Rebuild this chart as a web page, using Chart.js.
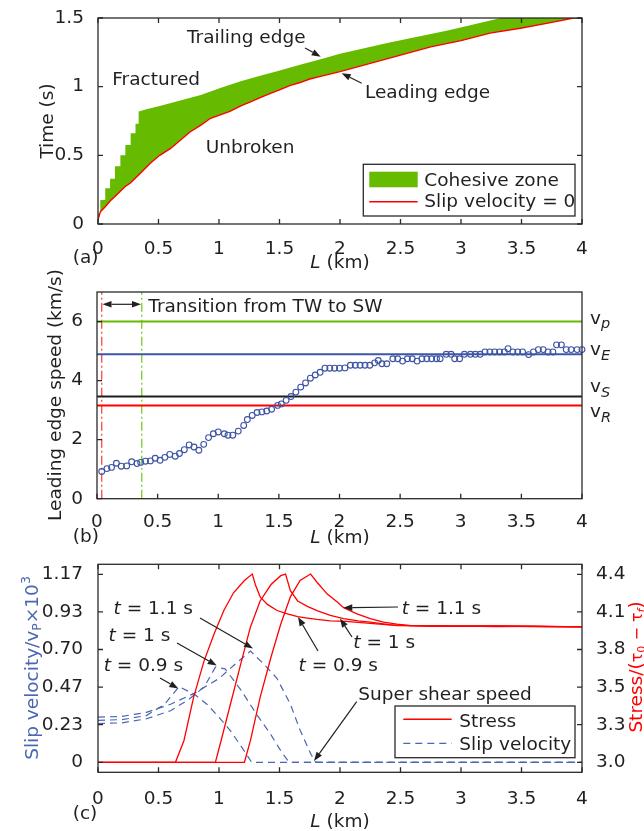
<!DOCTYPE html>
<html><head><meta charset="utf-8">
<script src="https://cdn.jsdelivr.net/npm/chart.js@4.4.1/dist/chart.umd.min.js"></script>
<style>
html,body{margin:0;padding:0;background:#fff;}
#wrap{position:relative;width:644px;height:831px;overflow:hidden;}
canvas{position:absolute;left:0;}
</style></head><body>
<div id="wrap">
<canvas id="ca" width="644" height="270" style="top:0px"></canvas>
<canvas id="cb" width="644" height="290" style="top:260px"></canvas>
<canvas id="cc" width="644" height="291" style="top:540px"></canvas>
</div>
<script>
// ---------------- data ----------------
const xTickVals = [0, 0.5, 1, 1.5, 2, 2.5, 3, 3.5, 4];
// panel (a)
const timeTickVals = [0, 0.5, 1, 1.5];
const trailStepL = [0, 0.019, 0.06, 0.10, 0.14, 0.185, 0.226, 0.27, 0.31, 0.336];
const trailStepT = [0.078, 0.175, 0.26, 0.33, 0.42, 0.50, 0.575, 0.66, 0.73, 0.82];
const trailL = [0.336, 0.4, 0.51, 0.68, 0.85, 1.01, 1.18, 1.34, 1.51, 1.67, 1.84, 2.0, 2.4, 2.9, 3.33, 4.0];
const trailT = [0.82, 0.835, 0.86, 0.90, 0.94, 0.99, 1.04, 1.08, 1.12, 1.16, 1.20, 1.24, 1.32, 1.41, 1.5, 1.5];
const leadL = [0, 0.02, 0.06, 0.10, 0.14, 0.18, 0.22, 0.27, 0.35, 0.43, 0.51, 0.60, 0.68, 0.76, 0.85, 0.93, 1.01, 1.09, 1.18, 1.26, 1.34, 1.42, 1.51, 1.59, 1.67, 1.75, 1.84, 2.0, 2.25, 2.5, 2.75, 3.0, 3.24, 3.49, 3.74, 3.93, 4.0];
const leadT = [0.03, 0.09, 0.126, 0.167, 0.20, 0.235, 0.27, 0.30, 0.37, 0.44, 0.50, 0.55, 0.61, 0.67, 0.72, 0.77, 0.795, 0.82, 0.86, 0.89, 0.92, 0.95, 0.98, 1.01, 1.03, 1.056, 1.075, 1.11, 1.17, 1.23, 1.29, 1.335, 1.39, 1.425, 1.466, 1.5, 1.5];
// panel (b)
const speedTickVals = [0, 2, 4, 6];
const speedL = [0.039,0.082,0.12,0.16,0.20,0.245,0.286,0.33,0.36,0.40,0.44,0.48,0.52,0.56,0.60,0.645,0.68,0.72,0.76,0.80,0.84,0.88,0.92,0.96,1.00,
  1.05,1.08,1.12,1.165,1.21,1.24,1.28,1.32,1.36,1.40,1.44,1.49,1.52,1.56,1.60,1.64,1.68,1.72,1.76,1.80,1.84,1.88,1.92,1.96,2.0,
  2.045,2.09,2.13,2.17,2.21,2.25,2.29,2.32,2.35,2.39,2.44,2.48,2.52,2.56,2.60,2.64,2.68,2.72,2.76,2.80,
  2.83,2.88,2.92,2.95,2.99,3.03,3.08,3.12,3.16,3.20,3.24,3.28,3.32,3.36,3.39,3.43,3.47,3.51,3.56,3.60,
  3.64,3.68,3.72,3.76,3.79,3.83,3.87,3.91,3.96,4.0];
const speedV = [0.92,1.02,1.06,1.20,1.10,1.11,1.25,1.19,1.23,1.27,1.28,1.37,1.30,1.40,1.50,1.44,1.53,1.66,1.82,1.75,1.64,1.84,2.07,2.20,2.26,
  2.20,2.15,2.15,2.29,2.48,2.68,2.82,2.92,2.94,2.97,3.03,3.16,3.21,3.33,3.46,3.61,3.78,3.92,4.08,4.19,4.28,4.42,4.42,4.42,4.42,
  4.43,4.52,4.52,4.52,4.52,4.52,4.60,4.68,4.57,4.57,4.74,4.74,4.66,4.74,4.74,4.66,4.74,4.74,4.74,4.74,
  4.74,4.89,4.89,4.74,4.74,4.89,4.89,4.89,4.89,4.97,4.97,4.97,4.97,4.97,5.08,4.97,4.97,4.97,4.88,4.97,
  5.05,5.05,4.97,4.97,5.21,5.21,5.05,5.05,5.05,5.05];
const vP = 6.0, vE = 4.89, vS = 3.46, vR = 3.16;
const twL = 0.039, swL = 0.369;
// panel (c)
const slipTickVals = [0, 7/30, 14/30, 0.7, 28/30, 35/30];
const slipTickLabels = ['0', '0.23', '0.47', '0.70', '0.93', '1.17'];
const stressTickVals = [3.0, 3.275, 3.55, 3.825, 4.1, 4.375];
const stressTickLabels = ['3.0', '3.3', '3.5', '3.8', '4.1', '4.4'];
const stressL09 = [0,0.64,0.71,0.79,0.876,0.96,1.04,1.12,1.21,1.275,1.30,1.34,1.40,1.48,1.565,1.65,1.73,1.81,1.92,2.05,2.2,2.4,2.6,2.8,3.0,3.3,3.6,4.0];
const stress09 = [3.0,3.0,3.158,3.475,3.74,3.94,4.11,4.24,4.33,4.377,4.30,4.21,4.155,4.11,4.085,4.065,4.055,4.045,4.035,4.03,4.02,4.005,4.0,3.995,3.997,3.993,3.995,3.99];
const stressL10 = [0,0.97,1.01,1.096,1.18,1.26,1.34,1.43,1.51,1.55,1.59,1.65,1.73,1.81,1.92,2.03,2.15,2.25,2.47,2.7,3.0,3.3,3.6,4.0];
const stress10 = [3.0,3.0,3.134,3.43,3.72,3.99,4.18,4.30,4.365,4.377,4.255,4.18,4.14,4.11,4.075,4.05,4.035,4.025,4.0,3.998,3.995,3.997,3.993,3.99];
const stressL11 = [0,1.21,1.26,1.34,1.43,1.51,1.59,1.67,1.757,1.81,1.895,1.98,2.03,2.14,2.25,2.36,2.47,2.58,2.8,3.0,3.3,3.6,4.0];
const stress11 = [3.0,3.0,3.16,3.475,3.77,4.01,4.21,4.33,4.377,4.317,4.23,4.17,4.13,4.085,4.05,4.025,4.01,4.0,3.997,3.995,3.998,3.994,3.99];
const slipL09 = [0,0.2,0.4,0.55,0.67,0.8,0.9,1.0,1.1,1.2,1.27,4.0];
const slip09 = [0.26,0.265,0.29,0.36,0.47,0.42,0.36,0.28,0.19,0.08,0,0];
const slipL10 = [0,0.2,0.4,0.6,0.75,0.88,0.97,1.05,1.18,1.3,1.43,1.52,1.58,4.0];
const slip10 = [0.24,0.245,0.27,0.32,0.39,0.47,0.59,0.58,0.45,0.31,0.17,0.06,0,0];
const slipL11 = [0,0.2,0.4,0.6,0.8,1.0,1.15,1.26,1.37,1.48,1.59,1.67,1.76,1.8,4.0];
const slip11 = [0.28,0.285,0.31,0.36,0.43,0.52,0.62,0.69,0.61,0.52,0.36,0.2,0.05,0,0];

// ---------------- style ----------------
const FONTCSS = "'DejaVu Sans', sans-serif";
const FS = 18.5;
const TXT = '#231f20';
const AX = '#2a2a2a';
const GREEN = '#66bb00';
const RED = '#ff0000';
const BLUE = '#3d53a4';
const BLUE_LBL = '#4b66b3';

const pts = (xs, ys) => xs.map((x, i) => ({x, y: ys[i]}));
// staircase: value changes at each listed L (vertical riser then tread)
const stairs = (xs, ys) => {
  const out = [];
  xs.forEach((x, i) => { if (i > 0) out.push({x, y: ys[i - 1]}); out.push({x, y: ys[i]}); });
  return out;
};
const trailingEdge = stairs(trailStepL, trailStepT).concat(pts(trailL, trailT).slice(1));
const fixTicks = vals => s => { s.ticks = vals.map(v => ({value: v})); };

function txt(ctx, x, y, parts, o = {}) {
  if (typeof parts === 'string') parts = [{t: parts}];
  const f = p => `${p.italic ? 'italic ' : ''}${p.size || FS}px ${FONTCSS}`;
  let w = 0;
  parts.forEach(p => { ctx.font = f(p); w += ctx.measureText(p.t).width; });
  let cx = x - (o.align === 'center' ? w / 2 : o.align === 'right' ? w : 0);
  ctx.textAlign = 'left'; ctx.textBaseline = 'alphabetic';
  parts.forEach(p => {
    ctx.font = f(p); ctx.fillStyle = p.color || o.color || TXT;
    ctx.fillText(p.t, cx, y + (p.dy || 0));
    cx += ctx.measureText(p.t).width;
  });
}
function vtxt(ctx, baseX, cy, parts, o = {}) {
  ctx.save(); ctx.translate(baseX, cy); ctx.rotate(-Math.PI / 2);
  txt(ctx, 0, 0, parts, Object.assign({align: 'center'}, o));
  ctx.restore();
}
function arrow(ctx, x1, y1, x2, y2) {
  const hl = 9, hw = 3.3;
  const a = Math.atan2(y2 - y1, x2 - x1);
  const bx = x2 - hl * Math.cos(a), by = y2 - hl * Math.sin(a);
  ctx.save();
  ctx.strokeStyle = TXT; ctx.fillStyle = TXT; ctx.lineWidth = 1.2;
  ctx.beginPath(); ctx.moveTo(x1, y1); ctx.lineTo(bx, by); ctx.stroke();
  ctx.beginPath(); ctx.moveTo(x2, y2);
  ctx.lineTo(bx + hw * Math.sin(a), by - hw * Math.cos(a));
  ctx.lineTo(bx - hw * Math.sin(a), by + hw * Math.cos(a));
  ctx.closePath(); ctx.fill();
  ctx.restore();
}
function frame(chart, o) {
  const {ctx, chartArea: a, scales} = chart;
  const xs = scales.x, ys = scales.y;
  ctx.save(); ctx.strokeStyle = AX; ctx.lineWidth = 1.3;
  ctx.strokeRect(a.left, a.top, a.right - a.left, a.bottom - a.top);
  const L = 5;
  ctx.beginPath();
  xTickVals.forEach(v => {
    const p = xs.getPixelForValue(v);
    ctx.moveTo(p, a.bottom); ctx.lineTo(p, a.bottom - L);
    if (o.topTicks) { ctx.moveTo(p, a.top); ctx.lineTo(p, a.top + L); }
  });
  o.yVals.forEach(v => {
    const p = ys.getPixelForValue(v);
    ctx.moveTo(a.left, p); ctx.lineTo(a.left + L, p);
    if (o.rightTicks) { ctx.moveTo(a.right, p); ctx.lineTo(a.right - L, p); }
  });
  ctx.stroke(); ctx.restore();
}
function tickFont() { return {family: FONTCSS, size: FS}; }
function xAxis(H, bottomLocal, pad) {
  return {
    type: 'linear', position: 'bottom', min: 0, max: 4,
    afterBuildTicks: fixTicks(xTickVals),
    afterFit: s => { s.height = H - bottomLocal; },
    grid: {display: false}, border: {display: false},
    ticks: {autoSkip: false, maxRotation: 0, minRotation: 0, padding: pad, color: TXT, font: tickFont(), callback: v => String(v)}
  };
}
function yAxis(min, max, vals, labels, leftW, pad, pos = 'left') {
  return {
    type: 'linear', position: pos, min, max,
    afterBuildTicks: fixTicks(vals),
    afterFit: s => { s.width = leftW; },
    grid: {display: false}, border: {display: false},
    ticks: {autoSkip: false, padding: pad, color: TXT, font: tickFont(),
      callback: (v, i) => labels ? labels[i] : String(v)}
  };
}
const baseOpts = (padTop, padRight) => ({
  responsive: false, animation: false, devicePixelRatio: 1,
  layout: {padding: {top: padTop, right: padRight, left: 0, bottom: 0}},
  plugins: {legend: {display: false}, tooltip: {enabled: false}},
  elements: {point: {radius: 0}, line: {tension: 0}}
});

// ---------------- panel (a) ----------------
const topA = 0, HA = 270;
new Chart(document.getElementById('ca'), {
  type: 'line',
  data: {datasets: [
    {label: 'Slip velocity = 0', data: pts(leadL, leadT), borderColor: RED, borderWidth: 1.4, fill: false, pointRadius: 0},
    {label: 'Cohesive zone', data: trailingEdge, borderWidth: 0, borderColor: GREEN, backgroundColor: GREEN, fill: {target: 0}, pointRadius: 0}
  ]},
  options: Object.assign(baseOpts(18 - topA, 62), {
    scales: {x: xAxis(HA, 224 - topA, 6), y: yAxis(0, 1.5, timeTickVals, null, 98, 6)}
  }),
  plugins: [{id: 'decoA', afterDraw(chart) {
    const ctx = chart.ctx;
    frame(chart, {topTicks: true, rightTicks: true, yVals: timeTickVals});
    ctx.save(); ctx.translate(0, -topA);
    txt(ctx, 187, 43.3, 'Trailing edge');
    arrow(ctx, 305, 48, 320.7, 56.7);
    txt(ctx, 112.3, 85, 'Fractured');
    txt(ctx, 205.7, 153.3, 'Unbroken');
    txt(ctx, 365, 97.7, 'Leading edge');
    arrow(ctx, 361.7, 83.3, 341.7, 73.3);
    // legend
    ctx.fillStyle = '#fff'; ctx.fillRect(363.3, 164.3, 211.7, 51.7);
    ctx.strokeStyle = AX; ctx.lineWidth = 1.3; ctx.strokeRect(363.3, 164.3, 211.7, 51.7);
    ctx.fillStyle = GREEN; ctx.fillRect(369.3, 171.7, 48.4, 15.6);
    ctx.strokeStyle = RED; ctx.lineWidth = 1.6; ctx.beginPath(); ctx.moveTo(369.3, 201.7); ctx.lineTo(417.7, 201.7); ctx.stroke();
    txt(ctx, 424.3, 185.5, 'Cohesive zone');
    txt(ctx, 424.3, 207, 'Slip velocity = 0');
    txt(ctx, 72.7, 263.3, '(a)');
    txt(ctx, 340, 267.5, [{t: 'L', italic: true}, {t: ' (km)'}], {align: 'center'});
    vtxt(ctx, 52.5, 121, 'Time (s)');
    ctx.restore();
  }}]
});

// ---------------- panel (b) ----------------
const topB = 260, HB = 290;
new Chart(document.getElementById('cb'), {
  type: 'line',
  data: {datasets: [
    {label: 'Leading edge speed', data: pts(speedL, speedV), showLine: false, pointStyle: 'circle', pointRadius: 2.9, pointBorderWidth: 1.1, pointBorderColor: BLUE, pointBackgroundColor: 'rgba(0,0,0,0)', clip: false},
    {label: 'vP', data: pts([0, 4], [vP, vP]), borderColor: GREEN, borderWidth: 2},
    {label: 'vE', data: pts([0, 4], [vE, vE]), borderColor: '#3f57a6', borderWidth: 2},
    {label: 'vS', data: pts([0, 4], [vS, vS]), borderColor: '#1e1e1e', borderWidth: 2},
    {label: 'vR', data: pts([0, 4], [vR, vR]), borderColor: RED, borderWidth: 2},
    {label: 'TW', data: pts([twL, twL], [0, 7]), borderColor: '#ff4444', borderWidth: 1.3, borderDash: [9, 3, 2, 3]},
    {label: 'SW', data: pts([swL, swL], [0, 7]), borderColor: '#77cc22', borderWidth: 1.3, borderDash: [9, 3, 2, 3]}
  ]},
  options: Object.assign(baseOpts(292 - topB, 62), {
    scales: {x: xAxis(HB, 498.7 - topB, 4), y: yAxis(0, 7, speedTickVals, null, 97, 6)}
  }),
  plugins: [{id: 'decoB', afterDraw(chart) {
    const ctx = chart.ctx;
    frame(chart, {topTicks: false, rightTicks: false, yVals: speedTickVals});
    ctx.save(); ctx.translate(0, -topB);
    vtxt(ctx, 60.5, 395, 'Leading edge speed (km/s)');
    arrow(ctx, 121, 304.3, 102.5, 304.3);
    arrow(ctx, 121, 304.3, 141, 304.3);
    txt(ctx, 148.3, 312, 'Transition from TW to SW');
    txt(ctx, 590, 323.5, [{t: 'v'}, {t: 'p', italic: true, size: 14.5, dy: 4.5}]);
    txt(ctx, 590, 355, [{t: 'v'}, {t: 'E', italic: true, size: 14.5, dy: 5}]);
    txt(ctx, 590, 391.7, [{t: 'v'}, {t: 'S', italic: true, size: 14.5, dy: 5}]);
    txt(ctx, 590, 416.7, [{t: 'v'}, {t: 'R', italic: true, size: 14.5, dy: 5}]);
    txt(ctx, 72.7, 542, '(b)');
    txt(ctx, 340, 543, [{t: 'L', italic: true}, {t: ' (km)'}], {align: 'center'});
    ctx.restore();
  }}]
});

// ---------------- panel (c) ----------------
const topC = 540, HC = 291;
const slipDash = [7, 5];
new Chart(document.getElementById('cc'), {
  type: 'line',
  data: {datasets: [
    {label: 'Stress t=0.9', yAxisID: 'y2', data: pts(stressL09, stress09), borderColor: RED, borderWidth: 1.3},
    {label: 'Stress t=1', yAxisID: 'y2', data: pts(stressL10, stress10), borderColor: RED, borderWidth: 1.3},
    {label: 'Stress t=1.1', yAxisID: 'y2', data: pts(stressL11, stress11), borderColor: RED, borderWidth: 1.3},
    {label: 'Slip t=0.9', yAxisID: 'y', data: pts(slipL09, slip09), borderColor: BLUE_LBL, borderWidth: 1.2, borderDash: slipDash},
    {label: 'Slip t=1', yAxisID: 'y', data: pts(slipL10, slip10), borderColor: BLUE_LBL, borderWidth: 1.2, borderDash: slipDash},
    {label: 'Slip t=1.1', yAxisID: 'y', data: pts(slipL11, slip11), borderColor: BLUE_LBL, borderWidth: 1.2, borderDash: slipDash}
  ]},
  options: Object.assign(baseOpts(564.3 - topC, 0), {
    scales: {
      x: xAxis(HC, 772.3 - topC, 8),
      y: yAxis(-0.0621, 1.2287, slipTickVals, slipTickLabels, 98, 7),
      y2: yAxis(2.9268, 4.4481, stressTickVals, stressTickLabels, 62, 6, 'right')
    }
  }),
  plugins: [{id: 'decoC', afterDraw(chart) {
    const ctx = chart.ctx;
    frame(chart, {topTicks: true, rightTicks: true, yVals: slipTickVals});
    ctx.save(); ctx.translate(0, -topC);
    vtxt(ctx, 38, 668, [{t: 'Slip velocity/v'}, {t: 'P', size: 12.5, dy: 3}, {t: '×10'}, {t: '3', size: 12.5, dy: -8}], {color: BLUE_LBL});
    vtxt(ctx, 642, 667, [{t: 'Stress/('}, {t: 'τ', size: 16}, {t: '0', size: 11, dy: 3}, {t: ' − ', size: 16}, {t: 'τ', size: 16}, {t: 'f', size: 11, italic: true, dy: 3}, {t: ')'}], {color: RED});
    const T = v => [{t: 't', italic: true}, {t: ' = ' + v + ' s'}];
    txt(ctx, 113.5, 614, T('1.1'));
    arrow(ctx, 200, 618, 253, 648.5);
    txt(ctx, 108.5, 640.7, T('1'));
    arrow(ctx, 177, 643, 216.7, 665.5);
    txt(ctx, 103.7, 670.7, T('0.9'));
    arrow(ctx, 160, 678, 178.3, 688.5);
    txt(ctx, 298.5, 670.7, T('0.9'));
    arrow(ctx, 318, 651, 298, 617);
    txt(ctx, 401.7, 614, T('1.1'));
    arrow(ctx, 398, 607, 343.3, 607.8);
    txt(ctx, 353.3, 648, T('1'));
    arrow(ctx, 352, 637, 340, 618.5);
    txt(ctx, 358.3, 699.5, 'Super shear speed');
    arrow(ctx, 356.7, 701.7, 314, 761);
    // legend
    ctx.fillStyle = '#fff'; ctx.fillRect(395, 706, 180, 51.7);
    ctx.strokeStyle = AX; ctx.lineWidth = 1.3; ctx.strokeRect(395, 706, 180, 51.7);
    ctx.strokeStyle = RED; ctx.lineWidth = 1.6; ctx.beginPath(); ctx.moveTo(403.3, 719.3); ctx.lineTo(451.7, 719.3); ctx.stroke();
    ctx.strokeStyle = BLUE_LBL; ctx.lineWidth = 1.3; ctx.setLineDash(slipDash); ctx.beginPath(); ctx.moveTo(403.3, 743.3); ctx.lineTo(451.7, 743.3); ctx.stroke(); ctx.setLineDash([]);
    txt(ctx, 459.3, 726.5, 'Stress');
    txt(ctx, 459.3, 749.5, 'Slip velocity');
    txt(ctx, 72.7, 819, '(c)');
    txt(ctx, 340, 827, [{t: 'L', italic: true}, {t: ' (km)'}], {align: 'center'});
    ctx.restore();
  }}]
});
</script>
</body></html>
